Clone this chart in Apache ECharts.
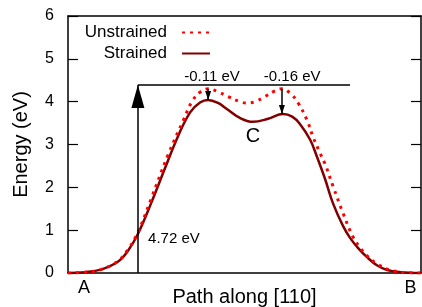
<!DOCTYPE html>
<html>
<head>
<meta charset="utf-8">
<script src="https://cdn.jsdelivr.net/npm/echarts@6/dist/echarts.min.js"></script>
<style>html,body{margin:0;padding:0;background:#fff}#main{width:422px;height:307px}</style>
</head>
<body>
<div id="main"></div>
<script>
// path coordinate (0 = left edge, 100 = right edge) and energy in eV
var strainedX = [0, 4.8, 9.3, 14.2, 17.0, 19.8, 23.5, 27.5, 31.2, 34.6, 37.4, 39.7, 42.5, 45.0, 48.7, 52.4, 56.7, 60.9, 63.5, 65.7, 68.6, 70.5, 72.8, 75.1, 77.9, 79.9, 82.2, 84.7, 87.5, 90.4, 94.1, 100];
var strainedE = [0, 0.02, 0.08, 0.27, 0.52, 0.91, 1.62, 2.45, 3.2, 3.75, 3.98, 4.04, 3.97, 3.83, 3.62, 3.53, 3.6, 3.71, 3.65, 3.48, 3.11, 2.72, 2.2, 1.62, 1.1, 0.82, 0.58, 0.37, 0.18, 0.07, 0.02, 0];
var unstrainedX = [0, 4.8, 9.3, 14.2, 17.0, 19.8, 23.5, 28.3, 32.6, 35.1, 37.4, 39.7, 42.5, 45.3, 48.7, 50.4, 53.0, 55.8, 58.6, 60.6, 62.9, 65.2, 67.7, 69.4, 71.4, 72.8, 75.1, 77.9, 80.7, 82.7, 84.7, 87.8, 91.2, 95.5, 100];
var unstrainedE = [0, 0.02, 0.08, 0.28, 0.55, 0.95, 1.72, 2.75, 3.55, 4.0, 4.22, 4.30, 4.23, 4.12, 4.0, 3.97, 4.0, 4.12, 4.25, 4.30, 4.2, 3.97, 3.57, 3.18, 2.8, 2.55, 2.02, 1.4, 0.85, 0.6, 0.4, 0.2, 0.07, 0.01, 0];

var endLabels = ['A', 'B'];
var endPos = [4.5, 97];

// annotations
var barrierX = 19.8, barrierEndX = 79.9, barrierTop = 4.39;
var peakX = [39.7, 60.6];
var peakTop = [4.30, 4.30];
var peakBottom = [4.04, 3.71];
var notes = [
    {text: '-0.11 eV', x: 40.8, y: 4.58, size: 15},
    {text: '-0.16 eV', x: 63.5, y: 4.58, size: 15},
    {text: 'C', x: 52.4, y: 3.18, size: 20},
    {text: '4.72 eV', x: 30.0, y: 0.79, size: 15}
];

function zip(xs, ys) {
    var out = [];
    for (var i = 0; i < xs.length; i++) out.push([xs[i], ys[i]]);
    return out;
}

var font = 'Liberation Sans';
var chart = echarts.init(document.getElementById('main'));

var lines = [
    [{coord: [barrierX, 0]}, {coord: [barrierX, barrierTop]}],
    [{coord: [barrierX, barrierTop]}, {coord: [barrierEndX, barrierTop]}]
];
var heads = [
    {coord: [barrierX, barrierTop], symbol: 'triangle', symbolSize: [13, 23], symbolOffset: [0, '50%']}
];
for (var i = 0; i < peakX.length; i++) {
    lines.push([{coord: [peakX[i], peakTop[i]]}, {coord: [peakX[i], peakBottom[i]]}]);
    heads.push({coord: [peakX[i], peakBottom[i]], symbol: 'triangle', symbolRotate: 180, symbolSize: [6, 9], symbolOffset: [0, '-50%']});
}
notes.forEach(function (n) {
    heads.push({
        coord: [n.x, n.y], symbol: 'circle', symbolSize: 1,
        itemStyle: {color: 'rgba(0,0,0,0)'},
        label: {show: true, position: 'inside', formatter: n.text, color: '#000', fontSize: n.size, fontFamily: font}
    });
});

var frameLine = {show: true, onZero: false, lineStyle: {color: '#000', width: 1.5}};
var yAxisBase = {
    type: 'value', min: 0, max: 6, interval: 1,
    axisLine: frameLine,
    axisTick: {show: true, inside: true, length: 10, lineStyle: {color: '#000', width: 1.2}},
    splitLine: {show: false}
};

chart.setOption({
    animation: false,
    grid: {left: 68, right: 1, top: 16, bottom: 34, outerBoundsMode: 'none', containLabel: false},
    legend: {
        data: ['Unstrained', 'Strained'],
        orient: 'vertical', align: 'right',
        right: 211, top: 24, padding: 0,
        itemWidth: 28, itemHeight: 14, itemGap: 4,
        itemStyle: {opacity: 0},
        textStyle: {fontSize: 17, fontFamily: font, color: '#000', padding: [0, 10, 0, 0]}
    },
    xAxis: [{
        type: 'value', min: 0, max: 100,
        axisLine: frameLine,
        axisTick: {show: false},
        splitLine: {show: false},
        axisLabel: {
            customValues: endPos,
            formatter: function (v) { return endLabels[endPos.indexOf(v)] || ''; },
            fontSize: 18, fontFamily: font, color: '#000', margin: 6
        },
        name: 'Path along [110]', nameLocation: 'middle', nameGap: 14, nameMoveOverlap: false,
        nameTextStyle: {fontSize: 20, fontFamily: font, color: '#000'}
    }, {
        type: 'value', min: 0, max: 100, position: 'top',
        axisLine: frameLine,
        axisTick: {show: false}, axisLabel: {show: false}, splitLine: {show: false}
    }],
    yAxis: [Object.assign({}, yAxisBase, {
        axisLabel: {fontSize: 16, fontFamily: font, color: '#000', margin: 14},
        name: 'Energy (eV)', nameLocation: 'middle', nameGap: 37, nameMoveOverlap: false,
        nameTextStyle: {fontSize: 20, fontFamily: font, color: '#000'}
    }), Object.assign({}, yAxisBase, {
        position: 'right', axisLabel: {show: false}
    })],
    series: [{
        name: 'Unstrained', type: 'line', data: zip(unstrainedX, unstrainedE),
        smooth: 0.4, showSymbol: false, symbol: 'none',
        lineStyle: {color: '#ff0000', width: 3, type: [3, 5], cap: 'butt'},
        itemStyle: {color: '#ff0000'}, z: 3
    }, {
        name: 'Strained', type: 'line', data: zip(strainedX, strainedE),
        smooth: 0.4, showSymbol: false, symbol: 'none',
        lineStyle: {color: '#800000', width: 2.5},
        itemStyle: {color: '#800000'}, z: 2
    }, {
        name: 'notes', type: 'scatter', data: [], silent: true,
        markLine: {
            silent: true, symbol: ['none', 'none'], animation: false,
            lineStyle: {color: '#000', width: 1.5, type: 'solid'},
            label: {show: false},
            data: lines
        },
        markPoint: {
            silent: true, animation: false,
            itemStyle: {color: '#000'},
            label: {show: false},
            data: heads
        }
    }]
});
</script>
</body>
</html>
